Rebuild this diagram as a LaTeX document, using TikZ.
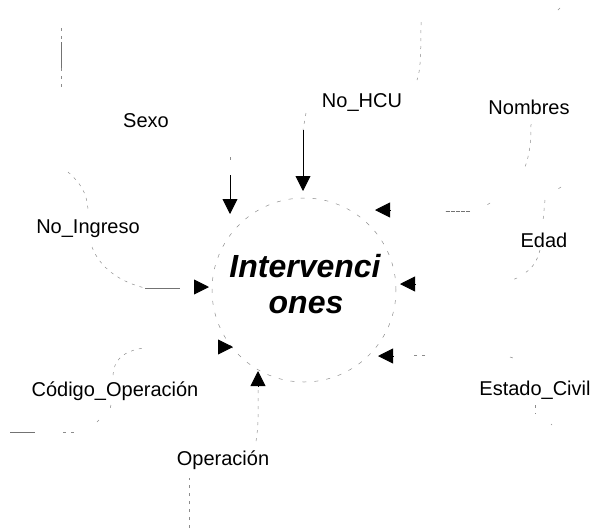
\documentclass[tikz,border=0pt]{standalone}
\usepackage{fontspec}
\setmainfont{Liberation Sans}
\usetikzlibrary{arrows.meta,calc}
\begin{document}
\begin{tikzpicture}[x=1pt,y=-1pt,
  lbl/.style={font=\fontsize{20}{24}\selectfont, inner sep=0pt},
  ptxt/.style={font=\fontsize{32}{36}\selectfont\bfseries\itshape, inner sep=0pt, anchor=base},
  faint/.style={draw=black!45, line width=0.5pt, dash pattern=on 3pt off 5pt},
  faintsolid/.style={draw=black!55, line width=0.6pt},
  tip/.style={-{Triangle[length=15pt,width=15pt]}, draw=black, line width=0.9pt},
]
\useasboundingbox (0,0) rectangle (594,531);

% process bubble
\node[circle, minimum size=184pt, inner sep=0pt, faint, dash pattern=on 4pt off 8pt] (proc) at (304,290) {};
\node[ptxt] (procA) at (305,277) {Intervenci};
\node[ptxt] (procB) at (306,313) {ones};

% data flow labels
\node[lbl] (sexo) at (146,121) {Sexo};
\node[lbl] (ingreso) at (88,229) {No\_Ingreso};
\node[lbl] (hcu) at (362,102) {No\_HCU};
\node[lbl] (nombres) at (529,107) {Nombres};
\node[lbl] (edad) at (544,240) {Edad};
\node[lbl] (codop) at (115,391) {Código\_Operación};
\node[lbl] (oper) at (223,460) {Operación};
\node[lbl] (civil) at (535,390) {Estado\_Civil};

% Sexo
\coordinate (sxU1) at (61,28);
\coordinate (sxU2) at (61,90);
\coordinate (sxA) at (230,157);
\coordinate (sxB) at (230,175);
\coordinate (sxT) at (230,214);
\draw[faint] (sxU1) -- (sxU2);
\draw[faintsolid] (61,42) -- (61,68);
\draw[faint] (sxA) -- (230,161);
\draw[tip] (sxB) -- (sxT);

% No_Ingreso
\coordinate (inA) at (68,172);
\coordinate (inB) at (88,213);
\coordinate (inC) at (92,247);
\coordinate (inD) at (145,288);
\coordinate (inE) at (180,288);
\coordinate (inT) at (209,287);
\draw[faint] (inA) .. controls (84,186) and (88,198) .. (inB);
\draw[faint] (inC) .. controls (100,268) and (120,282) .. (inD);
\draw[faintsolid] (inD) -- (inE);
\draw[tip] ($(inT)+(-15,0)$) -- (inT);

% No_HCU
\coordinate (hcA) at (421,22);
\coordinate (hcB) at (417,80);
\coordinate (hcC) at (306,113);
\coordinate (hcD) at (303,130);
\coordinate (hcT) at (303,191);
\draw[faint] (hcA) .. controls (421,60) and (420,72) .. (hcB);
\draw[faint] (hcC) -- (hcD);
\draw[tip] (hcD) -- (hcT);

% Nombres
\coordinate (nmA) at (560,8);
\coordinate (nmB) at (531,124);
\coordinate (nmC) at (525,167);
\coordinate (nmD) at (490,203);
\coordinate (nmE) at (470,211);
\coordinate (nmF) at (445,211);
\coordinate (nmT) at (375,210);
\draw[faint] (nmA) -- (557,11);
\draw[faint] (nmB) .. controls (531,145) and (529,156) .. (nmC);
\draw[faint] (nmD) -- (487,205);
\draw[faintsolid, dash pattern=on 4pt off 1pt] (nmE) -- (nmF);
\draw[tip] ($(nmT)+(15,0)$) -- (nmT);

% Edad
\coordinate (edA) at (561,187);
\coordinate (edB) at (545,200);
\coordinate (edC) at (543,221);
\coordinate (edD) at (540,250);
\coordinate (edE) at (525,273);
\coordinate (edF) at (510,281);
\coordinate (edT) at (400,284);
\draw[faint] (edA) -- (558,189);
\draw[faint] (edB) -- (edC);
\draw[faint] (edD) .. controls (537,262) and (532,268) .. (edE);
\draw[faint] (517,278) -- (edF);
\draw[tip] ($(edT)+(15,0)$) -- (edT);

% Estado_Civil
\coordinate (ecA) at (552,425);
\coordinate (ecB) at (535,405);
\coordinate (ecC) at (510,357);
\coordinate (ecD) at (425,355);
\coordinate (ecE) at (414,355);
\coordinate (ecT) at (378,356);
\draw[faint] (ecA) -- (551,424);
\draw[faint] (ecB) -- (535,414);
\draw[faint] (ecC) -- (513,358);
\draw[faint] (ecD) -- (ecE);
\draw[tip] ($(ecT)+(15,0)$) -- (ecT);

% Código_Operación
\coordinate (coA) at (10,432);
\coordinate (coB) at (35,432);
\coordinate (coC) at (63,432);
\coordinate (coD) at (75,432);
\coordinate (coE) at (97,422);
\coordinate (coF) at (111,405);
\coordinate (coG) at (113,375);
\coordinate (coH) at (143,348);
\coordinate (coT) at (233,347);
\draw[faintsolid] (coA) -- (coB);
\draw[faint] (coC) -- (coD);
\draw[faint] (coE) -- (99,420);
\draw[faint] (coF) -- (110,409);
\draw[faint] (coG) .. controls (114,362) and (120,352) .. (coH);
\draw[tip] ($(coT)+(-15,0)$) -- (coT);

% Operación
\coordinate (opA) at (189,528);
\coordinate (opB) at (189,478);
\coordinate (opC) at (256,441);
\coordinate (opD) at (258,386);
\coordinate (opT) at (258,371);
\draw[faint] (opA) -- (opB);
\draw[faint] (opC) .. controls (259,425) and (258,400) .. (opD);
\draw[tip] (opD) -- (opT);

\end{tikzpicture}
\end{document}
